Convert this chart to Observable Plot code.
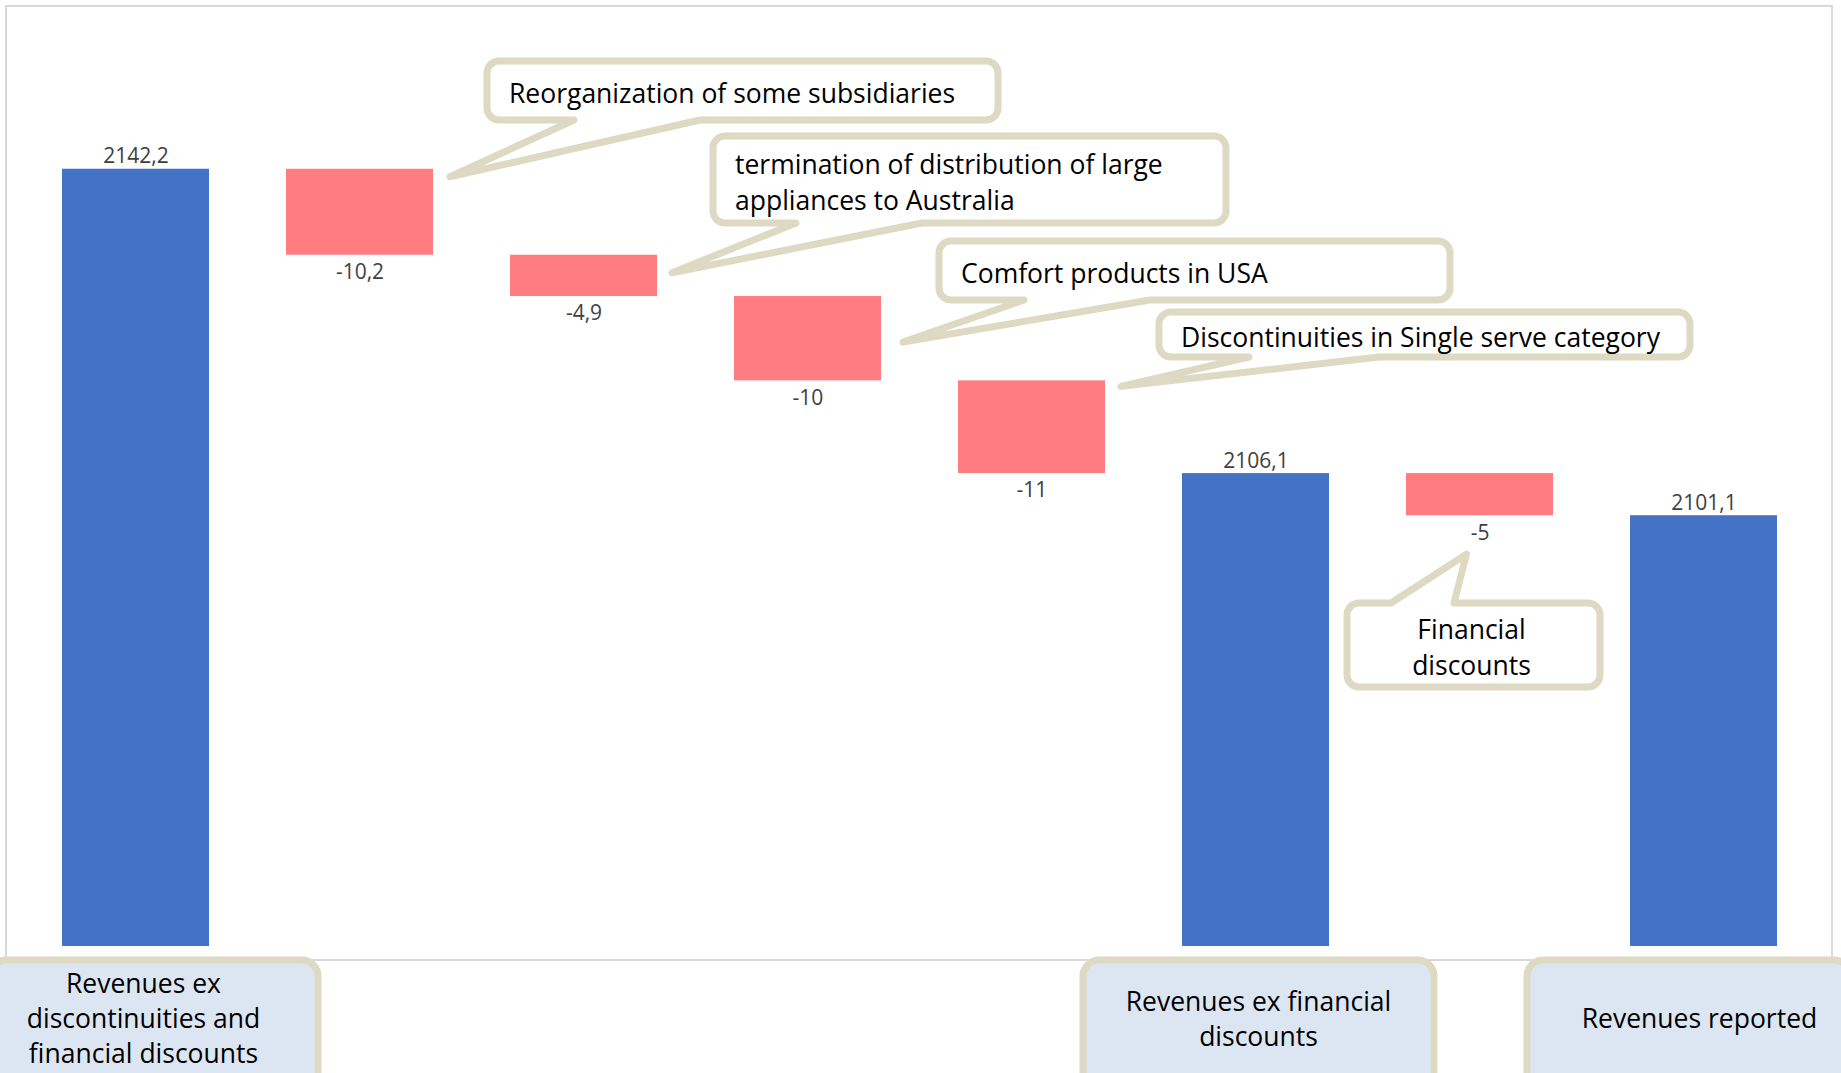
<!DOCTYPE html>
<html><head><meta charset="utf-8">
<script src="https://cdn.jsdelivr.net/npm/d3@7"></script>
<script src="https://cdn.jsdelivr.net/npm/@observablehq/plot@0.6"></script>
<style>html,body{margin:0;padding:0;background:#fff;overflow:hidden}</style>
</head><body><div id="chart"></div>
<script>
// ---- data ----
const categories = [
  "Revenues ex discontinuities and financial discounts",
  "Reorganization of some subsidiaries",
  "termination of distribution of large appliances to Australia",
  "Comfort products in USA",
  "Discontinuities in Single serve category",
  "Revenues ex financial discounts",
  "Financial discounts",
  "Revenues reported"
];
const values = [2142.2, -10.2, -4.9, -10, -11, 2106.1, -5, 2101.1];
const kinds = ["total", "delta", "delta", "delta", "delta", "total", "delta", "total"];
const valueLabels = ["2142,2", "-10,2", "-4,9", "-10", "-11", "2106,1", "-5", "2101,1"];
const totalLabelLines = [
  ["Revenues ex", "discontinuities and", "financial discounts"],
  ["Revenues ex financial", "discounts"],
  ["Revenues reported"]
];
const calloutLines = [
  ["Reorganization of some subsidiaries"],
  ["termination of distribution of large", "appliances to Australia"],
  ["Comfort products in USA"],
  ["Discontinuities in Single serve category"],
  ["Financial", "discounts"]
];
const yDomain = [2050, 2150];

// ---- waterfall table ----
let running = 0;
const rows = categories.map((cat, i) => {
  let y1, y2;
  if (kinds[i] === "total") { y1 = yDomain[0]; y2 = values[i]; running = values[i]; }
  else { y1 = running; y2 = running + values[i]; running = y2; }
  return {cat, kind: kinds[i], y1, y2, top: Math.max(y1, y2), low: Math.min(y1, y2), label: valueLabels[i]};
});

const BLUE = "#4472c4", RED = "#ff7c80", BEIGE = "#ddd9c3", BOXFILL = "#dce6f2";
const FONT = "'Open Sans', 'Noto Sans', sans-serif";

const plot = Plot.plot({
  width: 1841, height: 1073,
  marginTop: 103, marginBottom: 127, marginLeft: 59, marginRight: 61,
  style: {background: "transparent", fontFamily: FONT},
  x: {domain: categories, paddingInner: 0.345, paddingOuter: 0, axis: null},
  y: {domain: yDomain, axis: null},
  color: {domain: ["total", "delta"], range: [BLUE, RED]},
  marks: [
    Plot.barY(rows, {x: "cat", y1: "y1", y2: "y2", fill: "kind"}),
    Plot.text(rows.filter(d => d.kind === "total"), {x: "cat", y: "top", text: "label", lineAnchor: "bottom", dy: -6, fill: "#404040", fontSize: 21}),
    Plot.text(rows.filter(d => d.kind === "delta"), {x: "cat", y: "low", text: "label", lineAnchor: "top", dy: 9, fill: "#404040", fontSize: 21})
  ]
});
document.getElementById("chart").appendChild(plot);

// ---- annotations (callouts anchored to bars through the plot's scales) ----
const xs = plot.scale("x"), ys = plot.scale("y");
const X = v => xs.apply(v), Y = v => ys.apply(v), BW = xs.bandwidth;
const svg = d3.select(plot);

// chart frame + baseline
svg.insert("rect", ":first-child")
  .attr("x", 6).attr("y", 6).attr("width", 1826).attr("height", 954)
  .attr("fill", "#fff").attr("stroke", "#d9d9d9").attr("stroke-width", 2);

function bubble(x0, y0, x1, y1, r, side, b0, b1, tx, ty) {
  let p = `M${x0 + r},${y0}`;
  if (side === "top") p += `H${b0}L${tx},${ty}L${b1},${y0}`;
  p += `H${x1 - r}A${r},${r} 0 0 1 ${x1},${y0 + r}V${y1 - r}A${r},${r} 0 0 1 ${x1 - r},${y1}`;
  if (side === "bottom") p += `H${b1}L${tx},${ty}L${b0},${y1}`;
  p += `H${x0 + r}A${r},${r} 0 0 1 ${x0},${y1 - r}V${y0 + r}A${r},${r} 0 0 1 ${x0 + r},${y0}Z`;
  return p;
}

const calloutLayout = [
  {box: [487, 61, 998, 120], base: [574, 700], side: "bottom", dx: 17, dy: 8, anchor: "start"},
  {box: [713, 136, 1226, 223], base: [796, 922], side: "bottom", dx: 15, dy: 18, anchor: "start"},
  {box: [939, 241, 1450, 300], base: [1024, 1150], side: "bottom", dx: 22, dy: 46, anchor: "start"},
  {box: [1159, 312, 1690, 357], base: [1249, 1379], side: "bottom", dx: 16, dy: 6, anchor: "start"},
  {box: [1347, 603, 1600, 687], base: [1391, 1454], side: "top", dx: -13, dy: 39, anchor: "middle"}
];
const deltaRows = rows.filter(d => d.kind === "delta");
const gC = svg.append("g");
calloutLayout.forEach((L, i) => {
  const r = deltaRows[i];
  let tx, ty;
  if (L.side === "bottom") { tx = X(r.cat) + BW + L.dx; ty = Y(r.top) + L.dy; }
  else { tx = X(r.cat) + BW / 2 + L.dx; ty = Y(r.low) + L.dy; }
  const [x0, y0, x1, y1] = L.box;
  gC.append("path").attr("d", bubble(x0, y0, x1, y1, 12, L.side, L.base[0], L.base[1], tx, ty))
    .attr("fill", "#fff").attr("stroke", BEIGE).attr("stroke-width", 7).attr("stroke-linejoin", "round");
  const lines = calloutLines[i], lh = 36, cy = (y0 + y1) / 2 + 3;
  const t = gC.append("text").attr("font-family", FONT).attr("font-size", 26.5).attr("fill", "#000")
    .attr("text-anchor", L.anchor);
  lines.forEach((s, k) => {
    t.append("tspan").attr("x", L.anchor === "start" ? x0 + 22 : (x0 + x1) / 2 - 2)
      .attr("y", cy + (k - (lines.length - 1) / 2) * lh).attr("dy", "0.35em").text(s);
  });
});

// category label boxes under the total bars
const labelLayout = [
  {box: [-10, 960, 318, 1100], dx: 8},
  {box: [1083, 960, 1434, 1100], dx: 3},
  {box: [1527, 960, 1850, 1100], dx: -4}
];
const totalRows = rows.filter(d => d.kind === "total");
labelLayout.forEach((L, i) => {
  const [x0, y0, x1, y1] = L.box;
  gC.append("rect").attr("x", x0).attr("y", y0).attr("width", x1 - x0).attr("height", y1 - y0)
    .attr("rx", 16).attr("fill", BOXFILL).attr("stroke", BEIGE).attr("stroke-width", 7);
  const cx = X(totalRows[i].cat) + BW / 2 + L.dx;
  const lines = totalLabelLines[i], lh = 35, cy = 1019;
  const t = gC.append("text").attr("font-family", FONT).attr("font-size", 26.5).attr("fill", "#000").attr("text-anchor", "middle");
  lines.forEach((s, k) => {
    t.append("tspan").attr("x", cx).attr("y", cy + (k - (lines.length - 1) / 2) * lh).attr("dy", "0.35em").text(s);
  });
});
</script>
</body></html>
